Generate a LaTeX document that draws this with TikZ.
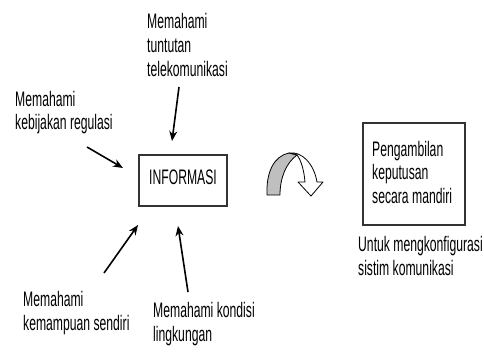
\documentclass[tikz,border=0pt]{standalone}
\usepackage{fontspec}
\setmainfont{Liberation Sans}[FakeStretch=0.58]
\usetikzlibrary{arrows.meta}
\tikzset{
  lbl/.style={anchor=base west, align=left, inner sep=0pt, font=\fontsize{21}{23.5}\selectfont},
  boxn/.style={draw=black!80, line width=1.3pt, inner sep=0pt},
  arr/.style={line width=1.6pt, -{Stealth[length=10pt,width=8pt]}},
}
\begin{document}
\begin{tikzpicture}[x=1pt,y=-1pt]
\useasboundingbox (0,0) rectangle (484,354);
% boxes
\node[boxn, minimum width=88pt, minimum height=51pt] (info) at (183,180.5) {};
\node[font=\fontsize{21}{23}\selectfont, inner sep=0pt, anchor=base] (infot) at (183,184) {INFORMASI};
\node[boxn, minimum width=102pt, minimum height=102pt] (dec) at (414,174) {};
\node[lbl] (dect) at (372,203) {Pengambilan\\keputusan\\secara mandiri};
\node[lbl] (cfg) at (358,275) {Untuk mengkonfigurasi\\sistim komunikasi};
% labels
\node[lbl, font=\fontsize{21}{24}\selectfont] (t1) at (147,76) {Memahami\\tuntutan\\telekomunikasi};
\node[lbl] (t2) at (15,129.5) {Memahami\\kebijakan regulasi};
\node[lbl] (t3) at (23,330) {Memahami\\kemampuan sendiri};
\node[lbl] (t4) at (153,341) {Memahami kondisi\\lingkungan};
% arrow coordinates
\coordinate (a1s) at (179,87);  \coordinate (a1e) at (172,141);
\coordinate (a2s) at (87,147);  \coordinate (a2e) at (123,168);
\coordinate (a3s) at (104,273); \coordinate (a3e) at (138,225);
\coordinate (a4s) at (188,292); \coordinate (a4e) at (178,226);
\draw[arr] (a1s) -- (a1e);
\draw[arr] (a2s) -- (a2e);
\draw[arr] (a3s) -- (a3e);
\draw[arr] (a4s) -- (a4e);
% curved arrow
\draw[fill=black!25, line width=0.8pt, line join=round]
  (267,195) .. controls (266,172) and (274,156) .. (289,153)
  -- (297,155) .. controls (286,163) and (280,178) .. (280,195) -- cycle;
\draw[fill=white, line width=0.8pt, line join=round]
  (289,153) .. controls (302,151) and (314,164) .. (317,182)
  -- (323,182) -- (311,196) -- (298,182) -- (305,182)
  .. controls (304,170) and (301,160) .. (297,155) -- cycle;
\end{tikzpicture}
\end{document}
